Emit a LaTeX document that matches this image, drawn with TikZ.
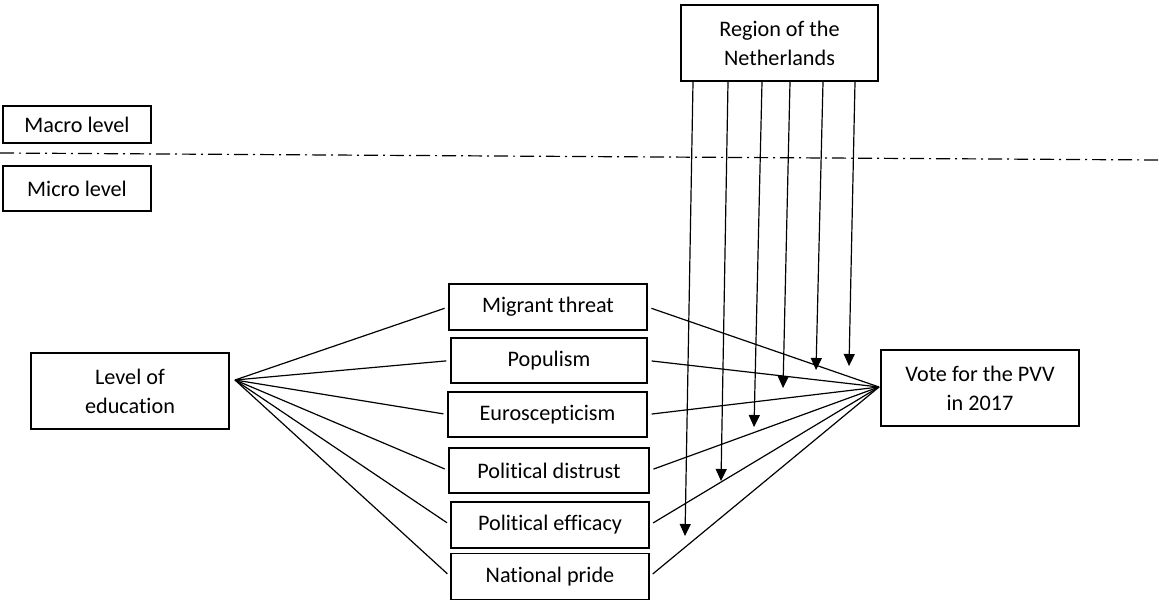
\documentclass[tikz,border=0pt]{standalone}
\usepackage{fontspec}
\setmainfont{Carlito}[Ligatures=NoCommon]
\usepackage{tikz}
\usetikzlibrary{arrows.meta}

\begin{document}
\begin{tikzpicture}[x=0.5pt, y=-0.5pt,
  box/.style={draw, line width=0.65pt, inner sep=0pt, align=center, font=\fontsize{11.1}{14.5}\selectfont},
  link/.style={line width=0.6pt},
  effect/.style={line width=0.6pt, -{Triangle[length=6pt, width=5.5pt]}}]
  \useasboundingbox (0,0) rectangle (1159,600);
  \node[box, minimum width=74pt, minimum height=18.5pt] (macro) at (77,124.5) {Macro level};
  \node[box, minimum width=74pt, minimum height=22.5pt] (micro) at (77,188.5) {Micro level};
  \coordinate (divL) at (0,153); \coordinate (divR) at (1159,160);
  \draw[link, dash pattern=on 7pt off 2.5pt on 1pt off 2.5pt] (divL) -- (divR);
  \node[box, minimum width=98.5pt, minimum height=38pt] (region) at (779.5,43) {Region of the\\Netherlands};
  \node[box, minimum width=99pt, minimum height=38pt] (edu) at (130,391) {Level of\\education};
  \node[box, minimum width=99pt, minimum height=38pt] (vote) at (980,388) {Vote for the PVV\\in 2017};
  \node[box, minimum width=99pt, minimum height=23pt] (migrant) at (548,307) {Migrant threat};
  \node[box, minimum width=98pt, minimum height=22.5pt] (populism) at (549,360.5) {Populism};
  \node[box, minimum width=99.5pt, minimum height=22.5pt] (euro) at (547.5,414.5) {Euroscepticism};
  \node[box, minimum width=100pt, minimum height=22.5pt] (distrust) at (549,470.5) {Political distrust};
  \node[box, minimum width=99pt, minimum height=23pt] (efficacy) at (550,525) {Political efficacy};
  \node[box, minimum width=99pt, minimum height=23pt] (pride) at (550,576.5) {National pride};
  \coordinate (eduout) at (235,380); \coordinate (votein) at (879,387);
  \foreach \m in {migrant, populism, euro, distrust, efficacy, pride} {
    \draw[link, shorten >=2pt] (eduout) -- (\m.west);
    \draw[link, shorten <=2pt] (\m.east) -- (votein);
  }
  \foreach \i/\sx/\ex/\ey in {1/693/685/536, 2/728/721/481, 3/762/754/427, 4/790/783/388, 5/823/816/370, 6/855/849/366} {
    \coordinate (tip\i) at (\ex,\ey);
    \draw[effect] (region.south -| \sx,0) -- (tip\i);
  }
\end{tikzpicture}
\end{document}
